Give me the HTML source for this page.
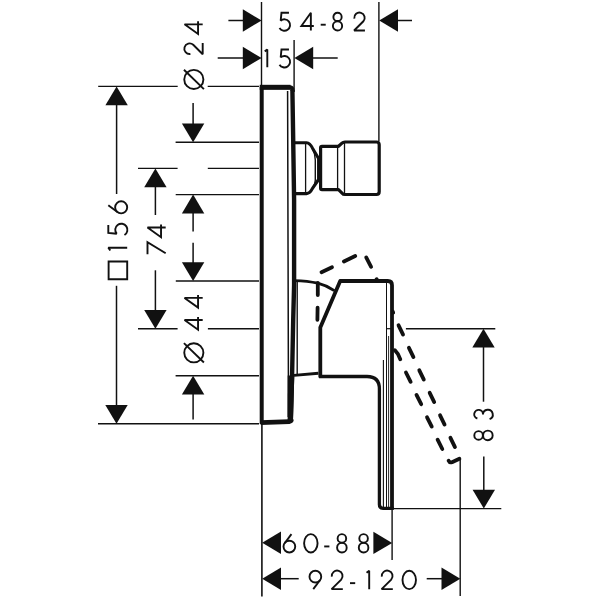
<!DOCTYPE html>
<html><head><meta charset="utf-8"><title>Dimension drawing</title>
<style>
html,body{margin:0;padding:0;background:#fff;font-family:"Liberation Sans",sans-serif;}
svg{display:block}
</style></head>
<body>
<svg width="600" height="600" viewBox="0 0 600 600">
<rect width="600" height="600" fill="#ffffff"/>
<line x1="261.5" y1="2" x2="261.5" y2="86" stroke="#111111" stroke-width="1.4" stroke-linecap="butt"/>
<line x1="261.9" y1="424" x2="261.9" y2="596.5" stroke="#111111" stroke-width="1.6" stroke-linecap="butt"/>
<line x1="294.1" y1="40" x2="294.1" y2="92" stroke="#111111" stroke-width="1.4" stroke-linecap="butt"/>
<line x1="378.9" y1="2" x2="378.9" y2="141" stroke="#111111" stroke-width="1.4" stroke-linecap="butt"/>
<line x1="392.1" y1="508" x2="392.1" y2="560" stroke="#111111" stroke-width="1.4" stroke-linecap="butt"/>
<line x1="460.2" y1="459.5" x2="460.2" y2="596" stroke="#111111" stroke-width="1.4" stroke-linecap="butt"/>
<line x1="98.2" y1="86.4" x2="177.7" y2="86.4" stroke="#111111" stroke-width="1.4" stroke-linecap="butt"/>
<line x1="207.7" y1="86.4" x2="259" y2="86.4" stroke="#111111" stroke-width="1.4" stroke-linecap="butt"/>
<line x1="175.6" y1="142.3" x2="259" y2="142.3" stroke="#111111" stroke-width="1.4" stroke-linecap="butt"/>
<line x1="138" y1="168.4" x2="177.6" y2="168.4" stroke="#111111" stroke-width="1.4" stroke-linecap="butt"/>
<line x1="207.8" y1="168.4" x2="259" y2="168.4" stroke="#111111" stroke-width="1.4" stroke-linecap="butt"/>
<line x1="175.7" y1="194.6" x2="259" y2="194.6" stroke="#111111" stroke-width="1.4" stroke-linecap="butt"/>
<line x1="175.8" y1="281.0" x2="259" y2="281.0" stroke="#111111" stroke-width="1.4" stroke-linecap="butt"/>
<line x1="138" y1="328.7" x2="177.6" y2="328.7" stroke="#111111" stroke-width="1.4" stroke-linecap="butt"/>
<line x1="207.9" y1="328.7" x2="259" y2="328.7" stroke="#111111" stroke-width="1.4" stroke-linecap="butt"/>
<line x1="175.6" y1="375.8" x2="259" y2="375.8" stroke="#111111" stroke-width="1.4" stroke-linecap="butt"/>
<line x1="98" y1="423.8" x2="259" y2="423.8" stroke="#111111" stroke-width="1.4" stroke-linecap="butt"/>
<line x1="405.9" y1="328.7" x2="495.3" y2="328.7" stroke="#111111" stroke-width="1.4" stroke-linecap="butt"/>
<line x1="392" y1="508.6" x2="501.3" y2="508.6" stroke="#111111" stroke-width="1.4" stroke-linecap="butt"/>
<polygon points="261.60,20.50 242.80,9.30 242.80,31.70" fill="#111111"/>
<line x1="228.4" y1="20.5" x2="244" y2="20.5" stroke="#111111" stroke-width="1.5" stroke-linecap="butt"/>
<polygon points="261.60,58.00 242.80,46.80 242.80,69.20" fill="#111111"/>
<line x1="217.7" y1="58" x2="244" y2="58" stroke="#111111" stroke-width="1.5" stroke-linecap="butt"/>
<polygon points="294.40,58.00 313.20,46.80 313.20,69.20" fill="#111111"/>
<line x1="312" y1="58" x2="337.7" y2="58" stroke="#111111" stroke-width="1.5" stroke-linecap="butt"/>
<polygon points="379.20,20.50 398.00,9.30 398.00,31.70" fill="#111111"/>
<line x1="397" y1="20.5" x2="412" y2="20.5" stroke="#111111" stroke-width="1.5" stroke-linecap="butt"/>
<polygon points="116.60,86.40 105.40,105.20 127.80,105.20" fill="#111111"/>
<line x1="116.6" y1="104" x2="116.6" y2="194" stroke="#111111" stroke-width="1.5" stroke-linecap="butt"/>
<polygon points="116.50,423.80 105.30,405.00 127.70,405.00" fill="#111111"/>
<line x1="116.5" y1="285.8" x2="116.5" y2="406" stroke="#111111" stroke-width="1.5" stroke-linecap="butt"/>
<polygon points="155.40,168.40 144.20,187.20 166.60,187.20" fill="#111111"/>
<line x1="155.4" y1="186" x2="155.4" y2="215" stroke="#111111" stroke-width="1.5" stroke-linecap="butt"/>
<polygon points="155.40,328.70 144.20,309.90 166.60,309.90" fill="#111111"/>
<line x1="155.4" y1="270.3" x2="155.4" y2="311" stroke="#111111" stroke-width="1.5" stroke-linecap="butt"/>
<polygon points="193.10,142.30 181.90,123.50 204.30,123.50" fill="#111111"/>
<line x1="193.1" y1="103" x2="193.1" y2="125" stroke="#111111" stroke-width="1.5" stroke-linecap="butt"/>
<polygon points="193.10,194.60 181.90,213.40 204.30,213.40" fill="#111111"/>
<line x1="193.1" y1="212" x2="193.1" y2="231.6" stroke="#111111" stroke-width="1.5" stroke-linecap="butt"/>
<polygon points="193.10,281.00 181.90,262.20 204.30,262.20" fill="#111111"/>
<line x1="193.1" y1="242.8" x2="193.1" y2="264" stroke="#111111" stroke-width="1.5" stroke-linecap="butt"/>
<polygon points="193.10,375.80 181.90,394.60 204.30,394.60" fill="#111111"/>
<line x1="193.1" y1="393" x2="193.1" y2="419.5" stroke="#111111" stroke-width="1.5" stroke-linecap="butt"/>
<polygon points="483.50,328.70 472.30,347.50 494.70,347.50" fill="#111111"/>
<line x1="483.5" y1="346" x2="483.5" y2="401.7" stroke="#111111" stroke-width="1.5" stroke-linecap="butt"/>
<polygon points="483.80,508.60 472.60,489.80 495.00,489.80" fill="#111111"/>
<line x1="483.8" y1="456.6" x2="483.8" y2="491" stroke="#111111" stroke-width="1.5" stroke-linecap="butt"/>
<polygon points="262.20,542.80 281.00,531.60 281.00,554.00" fill="#111111"/>
<polygon points="392.20,542.90 373.40,531.70 373.40,554.10" fill="#111111"/>
<polygon points="262.20,578.70 281.00,567.50 281.00,589.90" fill="#111111"/>
<line x1="280" y1="578.7" x2="298.7" y2="578.7" stroke="#111111" stroke-width="1.5" stroke-linecap="butt"/>
<polygon points="460.30,578.70 441.50,567.50 441.50,589.90" fill="#111111"/>
<line x1="426.7" y1="578.7" x2="443" y2="578.7" stroke="#111111" stroke-width="1.5" stroke-linecap="butt"/>
<g transform="translate(279.5,12.8) rotate(0) scale(0.985)" fill="none" stroke="#111111" stroke-width="1.929" stroke-linecap="butt" stroke-linejoin="miter" stroke-miterlimit="2.2"><g transform="translate(0.00,0)"><path d="M9.6,0H2L1.2,8A5.8,5.8 0 1 1 0,15.4"/></g><g transform="translate(22.23,0)"><path d="M9.6,18V0L0,13.4H12.6"/></g><g transform="translate(41.83,0)"><path d="M0,12.1H5.1"/></g><g transform="translate(54.21,0)"><circle cx="4.7" cy="4.2" r="4.2"/><circle cx="4.7" cy="13.3" r="4.7"/></g><g transform="translate(75.74,0)"><path d="M0.2,5.8A5.3,5.3 0 1 1 9.4,8.6L0,18H11"/></g></g>
<g transform="translate(267.3,49.5) rotate(0) scale(0.985)" fill="none" stroke="#111111" stroke-width="1.929" stroke-linecap="butt" stroke-linejoin="miter" stroke-miterlimit="2.2"><g transform="translate(0.00,0)"><path d="M-2.6,1.9L0,0V18"/></g><g transform="translate(12.39,0)"><path d="M9.6,0H2L1.2,8A5.8,5.8 0 1 1 0,15.4"/></g></g>
<g transform="translate(283.5,534.1) rotate(0) scale(1.02)" fill="none" stroke="#111111" stroke-width="1.863" stroke-linecap="butt" stroke-linejoin="miter" stroke-miterlimit="2.2"><g transform="translate(0.00,0)"><path d="M7.8,0L1.1,9"/><circle cx="5.75" cy="12.25" r="5.75"/></g><g transform="translate(20.20,0)"><ellipse cx="6.6" cy="9" rx="6.6" ry="9"/></g><g transform="translate(39.90,0)"><path d="M0,12.1H5.1"/></g><g transform="translate(52.55,0)"><circle cx="4.7" cy="4.2" r="4.2"/><circle cx="4.7" cy="13.3" r="4.7"/></g><g transform="translate(73.82,0)"><circle cx="4.7" cy="4.2" r="4.2"/><circle cx="4.7" cy="13.3" r="4.7"/></g></g>
<g transform="translate(309.5,570.8) rotate(0) scale(1.02)" fill="none" stroke="#111111" stroke-width="1.863" stroke-linecap="butt" stroke-linejoin="miter" stroke-miterlimit="2.2"><g transform="translate(0.00,0)"><path d="M3.7,18L10.4,9"/><circle cx="5.75" cy="5.75" r="5.75"/></g><g transform="translate(21.67,0)"><path d="M0.2,5.8A5.3,5.3 0 1 1 9.4,8.6L0,18H11"/></g><g transform="translate(39.71,0)"><path d="M0,12.1H5.1"/></g><g transform="translate(58.53,0)"><path d="M-2.6,1.9L0,0V18"/></g><g transform="translate(70.69,0)"><path d="M0.2,5.8A5.3,5.3 0 1 1 9.4,8.6L0,18H11"/></g><g transform="translate(91.18,0)"><ellipse cx="6.6" cy="9" rx="6.6" ry="9"/></g></g>
<g transform="translate(184.55,89.0) rotate(-90) scale(1.008)" fill="none" stroke="#111111" stroke-width="1.885" stroke-linecap="butt" stroke-linejoin="miter" stroke-miterlimit="2.2"><g transform="translate(0.00,0)"><circle cx="9.5" cy="9.2" r="9.5"/><path d="M-0.1,19.2L19.1,-0.6"/></g><g transform="translate(34.52,0)"><path d="M0.2,5.8A5.3,5.3 0 1 1 9.4,8.6L0,18H11"/></g><g transform="translate(54.56,0)"><path d="M9.6,18V0L0,13.4H12.6"/></g></g>
<g transform="translate(108.3,279.2) rotate(-90) scale(1.05)" fill="none" stroke="#111111" stroke-width="1.810" stroke-linecap="butt" stroke-linejoin="miter" stroke-miterlimit="2.2"><g transform="translate(0.00,0)"><path d="M0,0.3H16.8V18H0Z"/></g><g transform="translate(29.90,0)"><path d="M-2.6,1.9L0,0V18"/></g><g transform="translate(42.10,0)"><path d="M9.6,0H2L1.2,8A5.8,5.8 0 1 1 0,15.4"/></g><g transform="translate(62.67,0)"><path d="M7.8,0L1.1,9"/><circle cx="5.75" cy="12.25" r="5.75"/></g></g>
<g transform="translate(147.5,254.2) rotate(-90) scale(1.01)" fill="none" stroke="#111111" stroke-width="1.881" stroke-linecap="butt" stroke-linejoin="miter" stroke-miterlimit="2.2"><g transform="translate(0.00,0)"><path d="M0,0H12L1,18"/></g><g transform="translate(16.83,0)"><path d="M9.6,18V0L0,13.4H12.6"/></g></g>
<g transform="translate(184.55,362.4) rotate(-90) scale(1.008)" fill="none" stroke="#111111" stroke-width="1.885" stroke-linecap="butt" stroke-linejoin="miter" stroke-miterlimit="2.2"><g transform="translate(0.00,0)"><circle cx="9.5" cy="9.2" r="9.5"/><path d="M-0.1,19.2L19.1,-0.6"/></g><g transform="translate(32.44,0)"><path d="M9.6,18V0L0,13.4H12.6"/></g><g transform="translate(54.37,0)"><path d="M9.6,18V0L0,13.4H12.6"/></g></g>
<g transform="translate(474.3,440.2) rotate(-90) scale(1.02)" fill="none" stroke="#111111" stroke-width="1.863" stroke-linecap="butt" stroke-linejoin="miter" stroke-miterlimit="2.2"><g transform="translate(0.00,0)"><circle cx="4.7" cy="4.2" r="4.2"/><circle cx="4.7" cy="13.3" r="4.7"/></g><g transform="translate(20.59,0)"><path d="M0.7,3A4.3,4.3 0 1 1 4.6,8.5A4.8,4.8 0 1 1 0,15"/></g></g>
<path d="M261.7,424 V87.3 H290 Q292.6,87.5 292.6,91" fill="none" stroke="#111111" stroke-width="4.0" stroke-linecap="butt" stroke-linejoin="round" />
<path d="M259.7,87.3 H290.5" fill="none" stroke="#111111" stroke-width="5.0" stroke-linecap="butt" stroke-linejoin="round" />
<path d="M260.6,422.6 L289.3,421.6 Q291.4,421.4 291.5,419.5" fill="none" stroke="#111111" stroke-width="4.6" stroke-linecap="butt" stroke-linejoin="round" />
<path d="M292.4,90 L293.2,140 L294.1,200 L294.1,285 L293.2,320 L292.1,375 L290.8,420" fill="none" stroke="#111111" stroke-width="4.4" stroke-linecap="butt" stroke-linejoin="round" />
<path d="M287.6,91 L288.4,375 L288.3,417" fill="none" stroke="#111111" stroke-width="1.5" stroke-linecap="butt" stroke-linejoin="round" />
<polygon points="287.7,375.5 294.3,375.5 293,421 287.6,421" fill="#111111"/>
<path d="M297.2,281 V374.5" fill="none" stroke="#111111" stroke-width="1.4" stroke-linecap="butt" stroke-linejoin="round" />
<path d="M294,142.8 H306.5 Q310,143 312.5,148.2 L318.6,158.5 V179.5 L312.5,188.4 Q310,193.4 306.5,193.6 H294" fill="none" stroke="#111111" stroke-width="3.1" stroke-linecap="butt" stroke-linejoin="round" />
<path d="M305.6,144 V193" fill="none" stroke="#111111" stroke-width="1.3" stroke-linecap="butt" stroke-linejoin="round" />
<path d="M312.6,149 Q315.3,154 315.3,160 V180 Q315.3,184 312.6,189" fill="none" stroke="#111111" stroke-width="1.4" stroke-linecap="butt" stroke-linejoin="round" />
<path d="M322,146.3 H338.5 L342.3,142.9 Q343,142 345,142 H376.5 Q379.2,142 379.2,144.7 V191.8 Q379.2,194.5 376.5,194.5 H345 Q343,194.5 342.3,193.4 L338.5,189.7 H322 Q320.6,189.7 320.6,188.3 V147.7 Q320.6,146.3 322,146.3 Z" fill="none" stroke="#111111" stroke-width="3.2" stroke-linecap="butt" stroke-linejoin="round" />
<path d="M337.6,147.5 V188.5" fill="none" stroke="#111111" stroke-width="1.3" stroke-linecap="butt" stroke-linejoin="round" />
<path d="M344.5,143 V193.5" fill="none" stroke="#111111" stroke-width="1.3" stroke-linecap="butt" stroke-linejoin="round" />
<path d="M294,280.6 Q308,281 317.8,283.2 Q327,285.6 334.3,290.6" fill="none" stroke="#111111" stroke-width="2.9" stroke-linecap="butt" stroke-linejoin="round" />
<path d="M294,375.4 L318.4,373.2" fill="none" stroke="#111111" stroke-width="2.9" stroke-linecap="butt" stroke-linejoin="round" />
<path d="M320.3,377.6 V327.6 L340.2,281.0 H387.8 Q392,281.0 392,285.2 V508.5" fill="none" stroke="#111111" stroke-width="3.8" stroke-linecap="butt" stroke-linejoin="round" />
<path d="M319,376.5 H367 Q379.4,376.5 379.4,389 V504.5 Q379.4,508.3 383,508.3 H393.8" fill="none" stroke="#111111" stroke-width="3.3" stroke-linecap="butt" stroke-linejoin="round" />
<path d="M386.5,283 V507" fill="none" stroke="#111111" stroke-width="1.0" stroke-linecap="butt" stroke-linejoin="round" />
<path d="M388.6,336 V507" fill="none" stroke="#111111" stroke-width="0.9" stroke-linecap="butt" stroke-linejoin="round" />
<path d="M383.4,360 V507" fill="none" stroke="#111111" stroke-width="1.1" stroke-linecap="butt" stroke-linejoin="round" />
<path d="M386.5,328.7 H391" fill="none" stroke="#111111" stroke-width="1.2" stroke-linecap="butt" stroke-linejoin="round" />
<path d="M317.8,283L317.8,295.0" fill="none" stroke="#111111" stroke-width="3.8" stroke-linecap="round" stroke-linejoin="round" />
<path d="M317.6,307.6L317.4,319.8" fill="none" stroke="#111111" stroke-width="3.8" stroke-linecap="round" stroke-linejoin="round" />
<path d="M321.5,272.2L332.0,267.2" fill="none" stroke="#111111" stroke-width="3.8" stroke-linecap="round" stroke-linejoin="round" />
<path d="M343.9,261.5L355.2,256.0" fill="none" stroke="#111111" stroke-width="3.8" stroke-linecap="round" stroke-linejoin="round" />
<path d="M366.2,257.4L371.1,266.8" fill="none" stroke="#111111" stroke-width="3.8" stroke-linecap="round" stroke-linejoin="round" />
<path d="M376.6,279.2 L377.2,280.4" fill="none" stroke="#111111" stroke-width="3.8" stroke-linecap="round" stroke-linejoin="round" />
<path d="M392.9,311.8 L393.2,312.6" fill="none" stroke="#111111" stroke-width="3.8" stroke-linecap="round" stroke-linejoin="round" />
<path d="M398.55,325.3L403.05,334.6" fill="none" stroke="#111111" stroke-width="3.8" stroke-linecap="round" stroke-linejoin="round" />
<path d="M408.93,347.8L413.43,357.1" fill="none" stroke="#111111" stroke-width="3.8" stroke-linecap="round" stroke-linejoin="round" />
<path d="M419.31,370.3L423.81,379.6" fill="none" stroke="#111111" stroke-width="3.8" stroke-linecap="round" stroke-linejoin="round" />
<path d="M429.69,392.8L434.19,402.1" fill="none" stroke="#111111" stroke-width="3.8" stroke-linecap="round" stroke-linejoin="round" />
<path d="M440.07,415.3L444.57,424.6" fill="none" stroke="#111111" stroke-width="3.8" stroke-linecap="round" stroke-linejoin="round" />
<path d="M450.45,437.8L454.95,447.1" fill="none" stroke="#111111" stroke-width="3.8" stroke-linecap="round" stroke-linejoin="round" />
<path d="M394.8,350.2 Q398.3,353.4 400.3,359.3" fill="none" stroke="#111111" stroke-width="3.8" stroke-linecap="round" stroke-linejoin="round" />
<path d="M405.95,372.5L410.65,381.8" fill="none" stroke="#111111" stroke-width="3.8" stroke-linecap="round" stroke-linejoin="round" />
<path d="M416.5,394.9L421.2,404.2" fill="none" stroke="#111111" stroke-width="3.8" stroke-linecap="round" stroke-linejoin="round" />
<path d="M427.05,417.3L431.75,426.6" fill="none" stroke="#111111" stroke-width="3.8" stroke-linecap="round" stroke-linejoin="round" />
<path d="M437.6,439.7L442.3,449.0" fill="none" stroke="#111111" stroke-width="3.8" stroke-linecap="round" stroke-linejoin="round" />
<path d="M459.4,458.7 L452,462.2 Q449.6,463 448.6,460.8" fill="none" stroke="#111111" stroke-width="3.8" stroke-linecap="round" stroke-linejoin="round" />
</svg>
</body></html>
